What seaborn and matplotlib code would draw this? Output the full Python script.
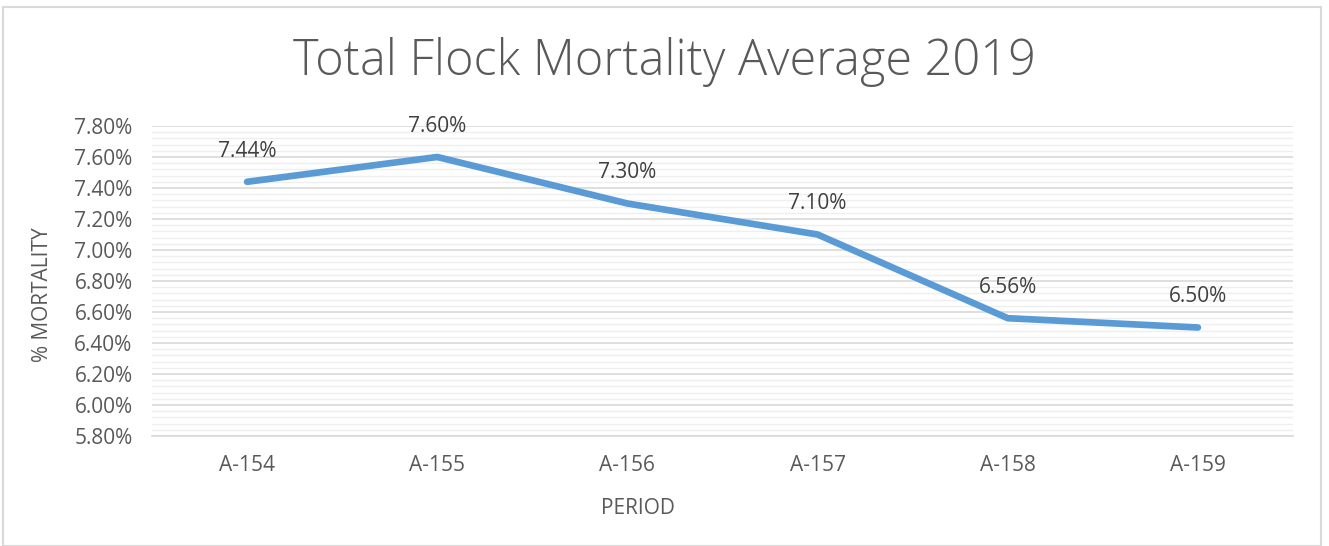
import numpy as np
import pandas as pd
import matplotlib
matplotlib.use("Agg")
import matplotlib.pyplot as plt
import seaborn as sns
from matplotlib.ticker import MultipleLocator, FuncFormatter
from matplotlib.patches import Rectangle

periods = ["A-154", "A-155", "A-156", "A-157", "A-158", "A-159"]
mortality = [7.44, 7.60, 7.30, 7.10, 6.56, 6.50]

df = pd.DataFrame({"period": periods, "mortality": mortality})

sns.set_style("white")
plt.rcParams["font.family"] = ["Open Sans", "DejaVu Sans"]

fig = plt.figure(figsize=(13.29, 5.46), dpi=100)
ax = fig.add_axes([152 / 1329, 1 - 436 / 546, (1293 - 152) / 1329, (436 - 126) / 546])

# chart frame
fig.patches.append(Rectangle((3 / 1329, 0), 1318 / 1329, 1 - 7 / 546, transform=fig.transFigure,
                             fill=False, edgecolor="#d9d9d9", linewidth=1.5))

sns.lineplot(data=df, x="period", y="mortality", ax=ax, color="#5b9bd5",
             linewidth=4.8, solid_capstyle="round", sort=False)

for i, v in enumerate(mortality):
    ax.annotate(f"{v:.2f}%", (i, v), xytext=(0, 22), textcoords="offset points",
                ha="center", va="center", fontsize=15, color="#404040")

ax.set_xlim(-0.5, len(periods) - 0.5)
ax.set_ylim(5.80, 7.80)
ax.yaxis.set_major_locator(MultipleLocator(0.2))
ax.yaxis.set_minor_locator(MultipleLocator(0.04))
ax.yaxis.set_major_formatter(FuncFormatter(lambda v, p: f"{v:.2f}%"))
ax.grid(axis="y", which="major", color="#d9d9d9", linewidth=1.2)
ax.grid(axis="y", which="minor", color="#efefef", linewidth=1.0)
ax.grid(axis="x", visible=False)
for s in ["top", "right", "left"]:
    ax.spines[s].set_visible(False)
ax.spines["bottom"].set_color("#d9d9d9")
ax.spines["bottom"].set_linewidth(1.2)
ax.tick_params(axis="both", which="both", length=0, labelsize=15, labelcolor="#595959")
ax.tick_params(axis="x", pad=14)
ax.tick_params(axis="y", pad=14)
ax.set_axisbelow(True)
ax.set_xlabel("")
ax.set_ylabel("")

fig.text(638 / 1329, 1 - 508 / 546, "PERIOD", ha="center", va="center",
         fontsize=15, color="#595959")
fig.text(42 / 1329, 1 - 295 / 546, "% MORTALITY", ha="center", va="center",
         rotation=90, fontsize=15, color="#595959")
fig.suptitle("Total Flock Mortality Average 2019", y=1 - 62 / 546, va="center",
             fontsize=35, color="#595959", fontweight="light")

fig.savefig("out.png", dpi=100)
